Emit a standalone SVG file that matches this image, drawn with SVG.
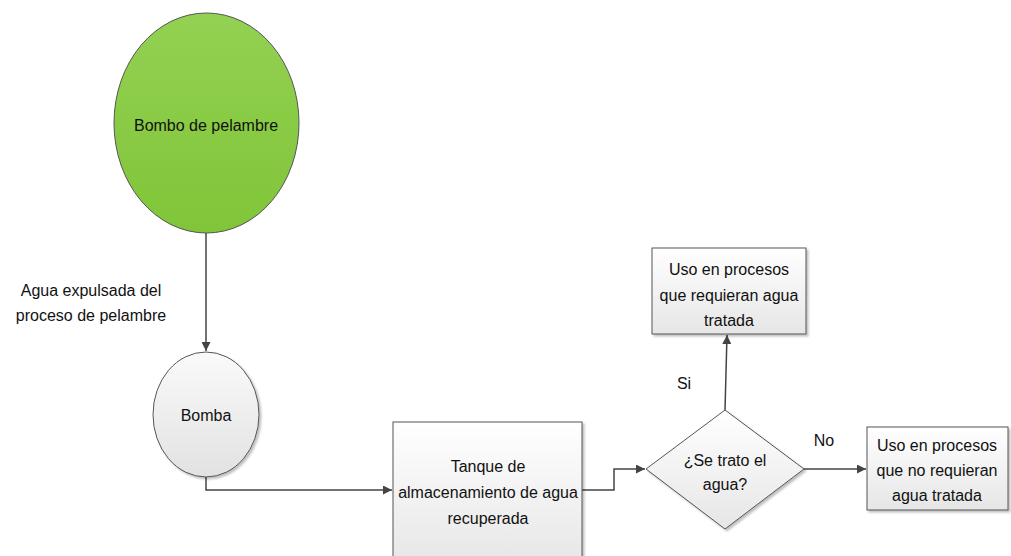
<svg xmlns="http://www.w3.org/2000/svg" width="1011" height="556" viewBox="0 0 1011 556">
  <style>
    text { font-family: "Liberation Sans", Arial, sans-serif; font-size: 16px; fill: #111; text-anchor: middle; }
    .shape { stroke: #555; stroke-width: 1; }
    .box { fill: url(#boxFill); stroke: #555; stroke-width: 1; filter: url(#shadow); }
    .conn { fill: none; stroke: #444; stroke-width: 1.5; marker-end: url(#arrow); }
  </style>
  <defs>
    <linearGradient id="boxFill" x1="0" y1="0" x2="0" y2="1">
      <stop offset="0" stop-color="#ffffff"/>
      <stop offset="1" stop-color="#e6e6e6"/>
    </linearGradient>
    <linearGradient id="greenFill" x1="0" y1="0" x2="0" y2="1">
      <stop offset="0" stop-color="#93d152"/>
      <stop offset="1" stop-color="#80c539"/>
    </linearGradient>
    <linearGradient id="pumpFill" x1="0" y1="0" x2="0" y2="1">
      <stop offset="0" stop-color="#fafafa"/>
      <stop offset="1" stop-color="#e2e2e2"/>
    </linearGradient>
    <filter id="shadow" x="-10%" y="-10%" width="130%" height="130%">
      <feDropShadow dx="2" dy="2" stdDeviation="1.2" flood-color="#000" flood-opacity="0.25"/>
    </filter>
    <marker id="arrow" viewBox="0 0 10 10" refX="10" refY="5" markerWidth="9" markerHeight="9" markerUnits="userSpaceOnUse" orient="auto">
      <path d="M0,0 L10,5 L0,10 z" fill="#444"/>
    </marker>
  </defs>

  <!-- connectors -->
  <g id="connectors">
    <path class="conn" d="M206,233 L206,351"/>
    <path class="conn" d="M206,477 L206,490 L392,490"/>
    <path class="conn" d="M582,490 L614,490 L614,469 L645,469"/>
    <path class="conn" d="M725,410 L727,335"/>
    <path class="conn" d="M804,469 L866,469"/>
  </g>

  <!-- edge labels -->
  <g id="labels">
    <text x="91" y="296">Agua expulsada del</text>
    <text x="91" y="321">proceso de pelambre</text>
    <text x="684" y="389">Si</text>
    <text x="824" y="446">No</text>
  </g>

  <g id="bombo">
    <ellipse class="shape" cx="206.5" cy="123" rx="92.5" ry="110" fill="url(#greenFill)"/>
    <text x="206" y="131">Bombo de pelambre</text>
  </g>

  <g id="bomba">
    <ellipse class="shape" cx="206" cy="414.5" rx="53" ry="62.5" fill="url(#pumpFill)" filter="url(#shadow)"/>
    <text x="206" y="421">Bomba</text>
  </g>

  <g id="tanque">
    <rect class="box" x="393" y="422" width="189" height="145"/>
    <text x="488" y="472">Tanque de</text>
    <text x="488" y="498">almacenamiento de agua</text>
    <text x="488" y="524">recuperada</text>
  </g>

  <g id="decision">
    <polygon class="box" points="725,410 804,469 725,529 646,469"/>
    <text x="725" y="466">¿Se trato el</text>
    <text x="725" y="490">agua?</text>
  </g>

  <g id="uso-tratada">
    <rect class="box" x="652" y="248" width="154" height="86"/>
    <text x="729" y="275">Uso en procesos</text>
    <text x="729" y="301">que requieran agua</text>
    <text x="729" y="326">tratada</text>
  </g>

  <g id="uso-no-tratada">
    <rect class="box" x="867" y="427" width="141" height="83"/>
    <text x="937" y="451">Uso en procesos</text>
    <text x="937" y="476">que no requieran</text>
    <text x="937" y="501">agua tratada</text>
  </g>
</svg>
